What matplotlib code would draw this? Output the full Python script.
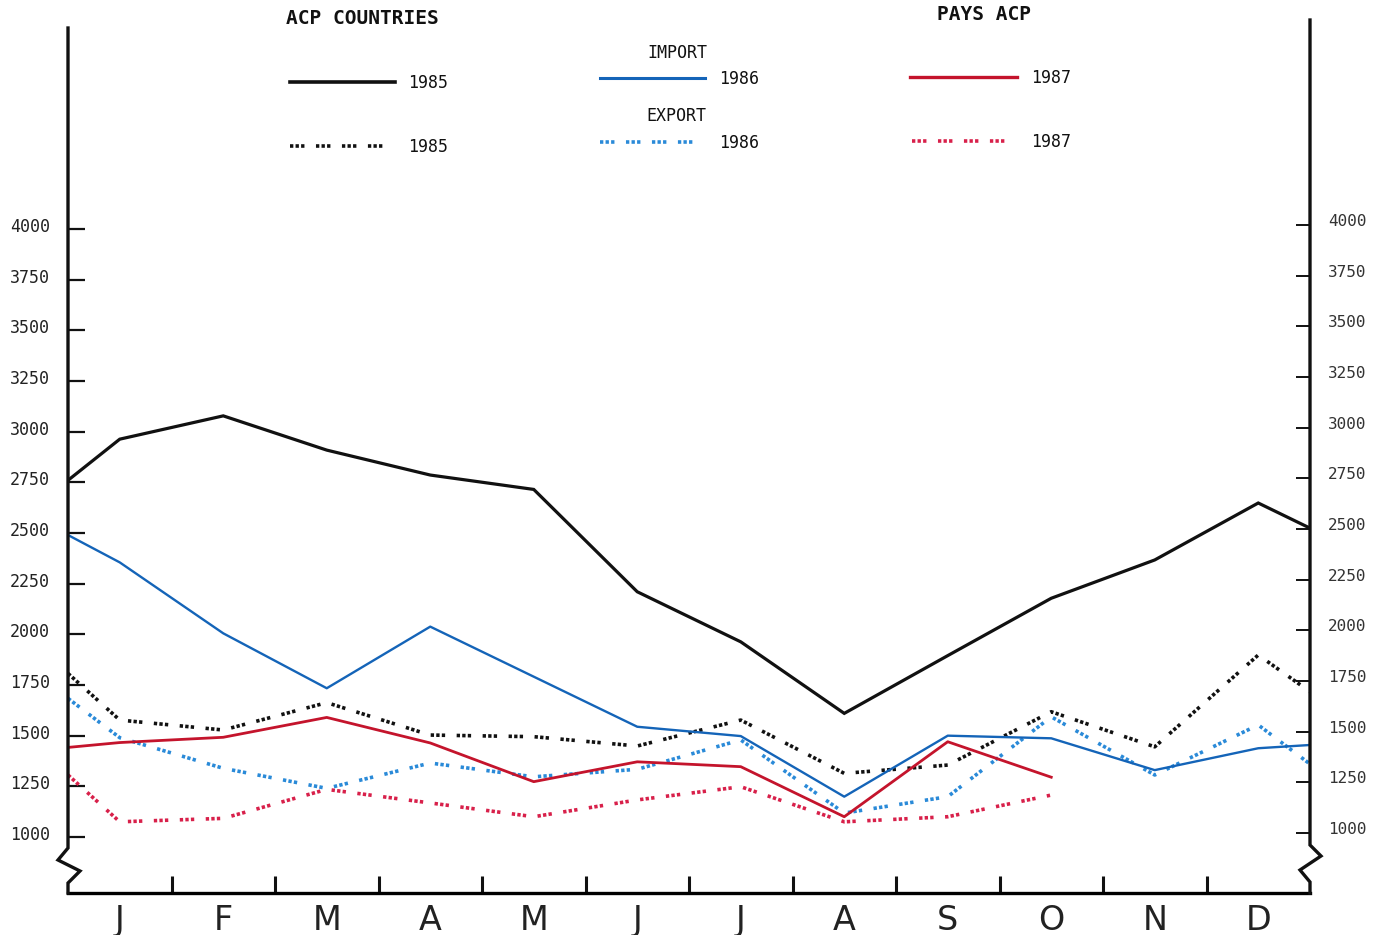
import numpy as np
import matplotlib
matplotlib.use("Agg")
import matplotlib.pyplot as plt
from matplotlib.lines import Line2D
from matplotlib.transforms import ScaledTranslation

plt.rcParams['lines.scale_dashes'] = False
plt.rcParams['font.family'] = ['DejaVu Sans Mono', 'DejaVu Sans']

# ---------------- data ----------------
months = ["J", "F", "M", "A", "M", "J", "J", "A", "S", "O", "N", "D"]
yticks = [1000, 1250, 1500, 1750, 2000, 2250, 2500, 2750, 3000, 3250, 3500, 3750, 4000]

# values: start of year, then mid-month J..D, then end of year
import_1985 = [2760, 2963, 3078, 2909, 2786, 2715, 2210, 1963, 1610, 1895, 2178, 2367, 2648, 2524]
import_1986 = [2490, 2355, 2005, 1734, 2038, 1791, 1544, 1498, 1199, 1500, 1487, 1330, 1438, 1454]
import_1987 = [1442, 1466, 1492, 1590, 1464, 1273, 1371, 1347, 1100, 1470, 1295]
export_1985 = [1807, 1577, 1528, 1663, 1503, 1495, 1449, 1577, 1314, 1355, 1618, 1445, 1898, 1717]
export_1986 = [1684, 1490, 1339, 1240, 1365, 1297, 1334, 1479, 1118, 1199, 1593, 1306, 1553, 1360]
export_1987 = [1306, 1075, 1092, 1235, 1168, 1100, 1183, 1248, 1075, 1100, 1207]

xpos = np.r_[0, np.arange(12) + 0.5, 12]

BLACK = "#111111"
BLUE = "#1464b8"
BLUE_D = "#2a8ad8"
RED = "#c4142c"
RED_D = "#d8204a"
DOTS = (0, (2.4, 1.6, 2.4, 1.6, 2.4, 8.3))

W, H = 1389, 935
fig = plt.figure(figsize=(W / 100, H / 100), dpi=100)
fig.patch.set_facecolor("white")

L, R, B, T = 68, 1310, 893, 20
ax = fig.add_axes([L / W, (H - B) / H, (R - L) / W, (B - T) / H])
ax.set_facecolor("none")

# y mapping: 1000 at px 837, 4000 at px 229
ppu = (837 - 229) / 3000.0
ylo = 1000 - (B - 837) / ppu
yhi = 4000 + (229 - T) / ppu
ax.set_xlim(0, 12)
ax.set_ylim(ylo, yhi)

# series
ax.plot(xpos, import_1985, color=BLACK, lw=2.3, solid_joinstyle='miter', zorder=5)
ax.plot(xpos, import_1986, color=BLUE, lw=1.7, zorder=5)
ax.plot(xpos[:len(import_1987)], import_1987, color=RED, lw=2.0, zorder=5)
ax.plot(xpos, export_1985, color=BLACK, lw=2.6, linestyle=DOTS, zorder=4)
ax.plot(xpos, export_1986, color=BLUE_D, lw=2.6, linestyle=DOTS, zorder=4)
ax.plot(xpos[:len(export_1987)], export_1987, color=RED_D, lw=2.6, linestyle=DOTS, zorder=4)

# spines
for s in ["left", "right", "top"]:
    ax.spines[s].set_visible(False)
ax.spines["bottom"].set_linewidth(2.4)

def axpt(px, py):
    return ((px - L) / (R - L), (B - py) / (B - T))

left_path = [(68, 28), (68, 848), (58, 860), (80, 871), (68, 883), (68, 893)]
right_path = [(1310, 20), (1310, 845), (1321, 856), (1300, 870), (1310, 882), (1310, 893)]
for path in (left_path, right_path):
    pts = np.array([axpt(*p) for p in path])
    ax.plot(pts[:, 0], pts[:, 1], color=BLACK, lw=2.4, transform=ax.transAxes,
            clip_on=False, solid_joinstyle='miter', zorder=6)

# x ticks: boundaries (inward), labels at centres
ax.set_xticks(np.arange(1, 12))
ax.set_xticklabels([])
ax.tick_params(axis='x', which='major', direction='in', length=12, width=2.2, color=BLACK)
ax.set_xticks(np.arange(12) + 0.5, minor=True)
ax.set_xticklabels(months, minor=True, fontsize=24, family='DejaVu Sans', color="#222222")
ax.tick_params(axis='x', which='minor', length=0, pad=8)

# left y ticks
ax.set_yticks(yticks)
ax.set_yticklabels([str(v) for v in yticks], fontsize=12, color="#222222")
ax.tick_params(axis='y', direction='in', length=12, width=1.6, pad=13, color=BLACK)
for lab in ax.get_yticklabels():
    lab.set_transform(lab.get_transform() + ScaledTranslation(0, 0.04, fig.dpi_scale_trans))

# right y axis (slightly offset scale as in the original)
ax2 = ax.twinx()
off = 4 / ppu
ax2.set_ylim(ylo - off, yhi - off)
ax2.set_yticks(yticks)
ax2.set_yticklabels([str(v) for v in yticks], fontsize=11.5, color="#333333")
ax2.tick_params(axis='y', direction='in', length=10, width=1.4, pad=13, color=BLACK)
for lab in ax2.get_yticklabels():
    lab.set_transform(lab.get_transform() + ScaledTranslation(0, 0.05, fig.dpi_scale_trans))
for s in ax2.spines.values():
    s.set_visible(False)

# legend block
def fx(x):
    return x / W

def fy(y):
    return 1 - y / H

fig.text(fx(362), fy(19), "ACP COUNTRIES", fontsize=14, fontweight='bold',
         ha='center', va='center', color=BLACK)
fig.text(fx(984), fy(15), "PAYS ACP", fontsize=14, fontweight='bold',
         ha='center', va='center', color=BLACK)
fig.text(fx(677), fy(53), "IMPORT", fontsize=12, ha='center', va='center', color=BLACK)
fig.text(fx(676), fy(116), "EXPORT", fontsize=12, ha='center', va='center', color=BLACK)

leg = [
    (290, 395, 82, BLACK, '-', 2.6, "1985", 408),
    (290, 393, 146, BLACK, DOTS, 2.6, "1985", 408),
    (600, 705, 78, BLUE, '-', 2.2, "1986", 719),
    (600, 703, 142, BLUE_D, DOTS, 2.6, "1986", 719),
    (910, 1017, 77, RED, '-', 2.4, "1987", 1031),
    (912, 1015, 141, RED_D, DOTS, 2.6, "1987", 1031),
]
for x0, x1, y, c, ls, lw, lab, tx in leg:
    fig.add_artist(Line2D([fx(x0), fx(x1)], [fy(y), fy(y)], color=c, lw=lw,
                          linestyle=ls, transform=fig.transFigure))
    fig.text(fx(tx), fy(y + 1), lab, fontsize=12, ha='left', va='center', color=BLACK)

fig.savefig("out.png", dpi=100, facecolor="white")
